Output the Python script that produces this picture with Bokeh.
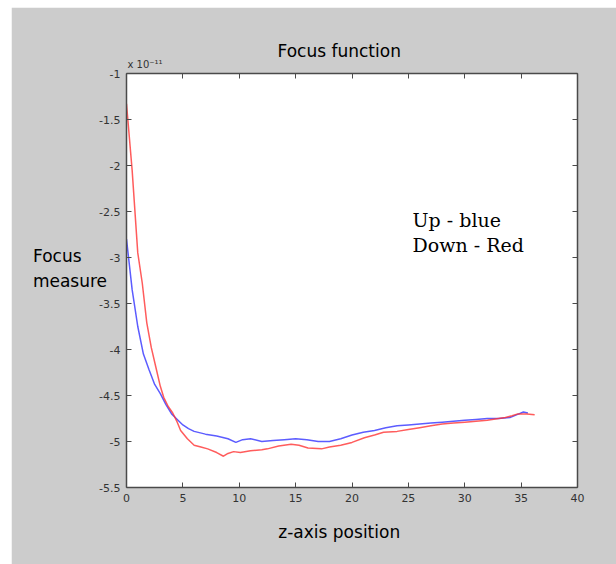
from bokeh.plotting import figure
from bokeh.models import Range1d, LinearAxis, Label, FixedTicker, Title, Spacer
from bokeh.layouts import row, column
from bokeh.embed import file_html
from bokeh.resources import INLINE

# ---- data (values in units of 1e-11) ----
up_x = [0, 0.5, 1.0, 1.5, 2.0, 2.5, 3.0, 3.5, 4.0, 4.5, 5, 5.5, 6, 7, 8, 9, 9.7, 10.3, 11, 12,
        13, 14, 15, 16, 17, 18, 19, 20, 21, 22, 23, 24, 25, 26, 27, 28, 29, 30, 31, 32, 33, 34,
        34.8, 35.2, 35.6]
up_y = [-2.80, -3.35, -3.75, -4.05, -4.22, -4.38, -4.48, -4.60, -4.70, -4.76, -4.82, -4.86, -4.89,
        -4.92, -4.94, -4.97, -5.01, -4.98, -4.97, -5.00, -4.99, -4.98, -4.97, -4.98, -5.00, -5.00,
        -4.97, -4.93, -4.90, -4.88, -4.85, -4.83, -4.82, -4.81, -4.80, -4.79, -4.78, -4.77, -4.76,
        -4.75, -4.75, -4.74, -4.70, -4.68, -4.69]

down_x = [0, 0.5, 1.0, 1.4, 1.8, 2.2, 2.6, 3.0, 3.3, 3.7, 4.1, 4.5, 4.8, 5.4, 6.0, 6.6, 7.2, 8.0,
          8.6, 9.0, 9.5, 10.1, 11, 12, 12.5, 13.5, 14.6, 15.3, 16.1, 17.3, 18, 19, 20, 21.1, 22,
          22.8, 24, 25, 26, 27, 28, 29, 30, 31, 32, 33, 33.6, 34.2, 34.7, 35.5, 36.2]
down_y = [-1.33, -2.05, -2.95, -3.28, -3.71, -3.98, -4.19, -4.40, -4.52, -4.62, -4.69, -4.79, -4.88,
          -4.97, -5.04, -5.06, -5.08, -5.12, -5.16, -5.13, -5.11, -5.12, -5.10, -5.09, -5.08, -5.05,
          -5.03, -5.04, -5.07, -5.08, -5.06, -5.04, -5.01, -4.96, -4.93, -4.90, -4.89, -4.87, -4.85,
          -4.83, -4.81, -4.80, -4.79, -4.78, -4.77, -4.75, -4.74, -4.72, -4.70, -4.70, -4.71]

x_ticks = [0, 5, 10, 15, 20, 25, 30, 35, 40]
y_ticks = [-5.5, -5, -4.5, -4, -3.5, -3, -2.5, -2, -1.5, -1]
y_tick_labels = ["-5.5", "-5", "-4.5", "-4", "-3.5", "-3", "-2.5", "-2", "-1.5", "-1"]

title_text = "Focus function"
x_label = "z-axis position"
y_label_lines = ["Focus", "measure"]
exponent_text = "x 10\u207b\u00b9\u00b9"
note_lines = ["Up - blue", "Down - Red"]

BG = "#cccccc"
AX = "#4a4a4a"

p = figure(width=605, height=557, output_backend="svg", toolbar_location=None,
           x_range=Range1d(0, 40), y_range=Range1d(-5.5, -1),
           min_border_left=115, min_border_right=39, min_border_top=66, min_border_bottom=77,
           background_fill_color="white", border_fill_color=BG, outline_line_color=None,
           x_axis_location=None, y_axis_location=None)
p.grid.visible = False


def style_axis(ax, show_labels):
    ax.axis_line_color = AX
    ax.axis_line_width = 1.5
    ax.major_tick_in = 5
    ax.major_tick_out = 0
    ax.major_tick_line_color = AX
    ax.minor_tick_line_color = None
    ax.major_label_standoff = 6 if show_labels else 0
    ax.major_label_text_font = "DejaVu Sans"
    ax.major_label_text_font_size = "11px" if show_labels else "0px"
    ax.major_label_text_color = "#333333"


xb = LinearAxis(ticker=FixedTicker(ticks=x_ticks))
xt = LinearAxis(ticker=FixedTicker(ticks=x_ticks),
                major_label_overrides={t: "" for t in x_ticks})
yl = LinearAxis(ticker=FixedTicker(ticks=y_ticks),
                major_label_overrides={t: s for t, s in zip(y_ticks, y_tick_labels)})
yr = LinearAxis(ticker=FixedTicker(ticks=y_ticks),
                major_label_overrides={t: "" for t in y_ticks})
style_axis(xb, True)
style_axis(xt, False)
style_axis(yl, True)
style_axis(yr, False)

# trailing em/en spaces only nudge the centred label a little to the left
xb.axis_label = x_label + "\u2003\u2002"
xb.axis_label_text_font = "DejaVu Sans"
xb.axis_label_text_font_size = "17px"
xb.axis_label_text_font_style = "normal"
xb.axis_label_text_color = "black"
xb.axis_label_standoff = 17

# two-line horizontal label, left-aligned by padding the short first line
yl.axis_label = y_label_lines[0] + "\u2003\u2002" + "\n" + y_label_lines[1] + "\n\u2003"
yl.axis_label_orientation = "horizontal"
yl.axis_label_text_font = "DejaVu Sans"
yl.axis_label_text_font_size = "17px"
yl.axis_label_text_font_style = "normal"
yl.axis_label_text_color = "black"
yl.axis_label_text_line_height = 1.25
yl.axis_label_standoff = -11

p.add_layout(xb, "below")
p.add_layout(xt, "above")
p.add_layout(yl, "left")
p.add_layout(yr, "right")

# exponent note (closest to the frame), then main title above it
p.add_layout(Title(text=exponent_text, align="left", text_font="DejaVu Sans",
                   text_font_size="10px", text_font_style="normal", text_color="#333333",
                   standoff=7, offset=1), "above")
p.add_layout(Title(text=title_text, align="left", text_font="DejaVu Sans",
                   text_font_size="17px", text_font_style="normal", text_color="black",
                   standoff=-14, offset=151), "above")

p.line(up_x, up_y, line_color="#3333ff", line_width=1.5, line_alpha=0.8)
p.line(down_x, down_y, line_color="#ff3333", line_width=1.5, line_alpha=0.8)

for yv, txt in zip([-2.587, -2.86], note_lines):
    p.add_layout(Label(x=25.37, y=yv, text=txt, text_font="DejaVu Serif", text_font_size="19px",
                       text_align="left", text_baseline="middle", text_color="black"))

layout = row(Spacer(width=11, height=564, background="white"),
             column(Spacer(width=605, height=7, background="white"), p, spacing=0),
             spacing=0)

open("out.html", "w").write(file_html(layout, INLINE))
